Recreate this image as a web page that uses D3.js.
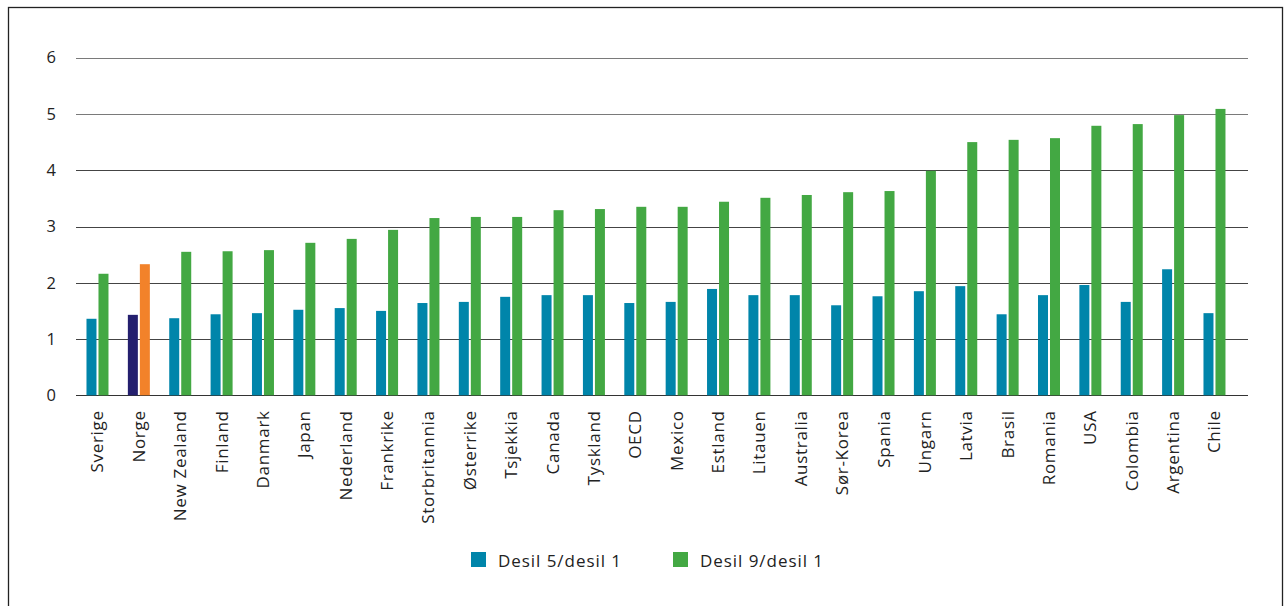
<!DOCTYPE html>
<html>
<head>
<meta charset="utf-8">
<script src="https://cdn.jsdelivr.net/npm/d3@7"></script>
<style>
  html, body { margin: 0; padding: 0; background: #fff; }
  svg { display: block; }
</style>
</head>
<body>
<svg id="chart" width="1285" height="606"></svg>
<script>
// Income ratios between deciles, by country
const countries = ["Sverige","Norge","New Zealand","Finland","Danmark","Japan","Nederland","Frankrike","Storbritannia","Østerrike","Tsjekkia","Canada","Tyskland","OECD","Mexico","Estland","Litauen","Australia","Sør-Korea","Spania","Ungarn","Latvia","Brasil","Romania","USA","Colombia","Argentina","Chile"];
const d5d1 = [1.36,1.43,1.37,1.44,1.46,1.52,1.55,1.50,1.64,1.66,1.75,1.78,1.78,1.64,1.66,1.89,1.78,1.78,1.60,1.76,1.85,1.94,1.44,1.78,1.96,1.66,2.24,1.46];
const d9d1 = [2.16,2.33,2.55,2.56,2.58,2.71,2.78,2.94,3.15,3.17,3.17,3.29,3.31,3.35,3.35,3.44,3.51,3.56,3.61,3.63,3.99,4.50,4.54,4.57,4.79,4.82,4.98,5.09];
const seriesNames = ["Desil 5/desil 1","Desil 9/desil 1"];
const yTicks = [0,1,2,3,4,5,6];

const colors = { d5: "#0085AA", d9: "#43A843", d5hi: "#241F6E", d9hi: "#F2822A" };
const highlight = "Norge";
const font = "'Open Sans', 'DejaVu Sans', sans-serif";

const svg = d3.select("#chart");

// outer frame
svg.append("rect")
  .attr("x", 8.5).attr("y", 7.5)
  .attr("width", 1274).attr("height", 610)
  .attr("fill", "none").attr("stroke", "#222").attr("stroke-width", 1.3);

const plot = { left: 76, right: 1248, top: 57.7, bottom: 395.3 };

const x = d3.scaleBand()
  .domain(countries)
  .range([plot.left, plot.left + 41.37 * countries.length]);

const y = d3.scaleLinear()
  .domain([0, 6])
  .range([plot.bottom, plot.top]);

// gridlines
svg.append("g")
  .selectAll("line")
  .data(yTicks)
  .join("line")
  .attr("x1", plot.left).attr("x2", plot.right)
  .attr("y1", d => Math.round(y(d)) + 0.5).attr("y2", d => Math.round(y(d)) + 0.5)
  .attr("stroke", d => d === 0 ? "#333" : (d >= 5 ? "#7a7a7a" : "#444"))
  .attr("stroke-width", 1.2);

// y axis labels
const yAxis = d3.axisLeft(y).tickValues(yTicks).tickSize(0).tickPadding(0).tickFormat(d3.format("d"));
const gy = svg.append("g").attr("transform", "translate(56,0)").call(yAxis);
gy.select(".domain").remove();
gy.selectAll("text")
  .attr("font-family", font).attr("font-size", 16.5).attr("fill", "#222");

// bars
const barW = 10, gap = 2;
const groups = svg.append("g")
  .selectAll("g")
  .data(countries)
  .join("g")
  .attr("transform", d => `translate(${x(d) + x.bandwidth() / 2 + 0.8},0)`);

groups.append("rect")
  .attr("x", -barW - gap / 2)
  .attr("width", barW)
  .attr("y", (d, i) => y(d5d1[i]))
  .attr("height", (d, i) => y(0) - y(d5d1[i]))
  .attr("fill", d => d === highlight ? colors.d5hi : colors.d5);

groups.append("rect")
  .attr("x", gap / 2)
  .attr("width", barW)
  .attr("y", (d, i) => y(d9d1[i]))
  .attr("height", (d, i) => y(0) - y(d9d1[i]))
  .attr("fill", d => d === highlight ? colors.d9hi : colors.d9);

// x axis labels, rotated
const xAxis = d3.axisBottom(x).tickSize(0).tickPadding(0);
const gx = svg.append("g").attr("transform", `translate(0.8,${plot.bottom})`).call(xAxis);
gx.select(".domain").remove();
gx.selectAll("text")
  .attr("font-family", font).attr("font-size", 17).attr("fill", "#222")
  .attr("letter-spacing", "0.7px")
  .attr("text-anchor", "end")
  .attr("dy", null)
  .attr("transform", "translate(6,15) rotate(-90)");

// legend
const legend = svg.append("g");
const legendItems = [
  { name: seriesNames[0], color: colors.d5, x: 471 },
  { name: seriesNames[1], color: colors.d9, x: 673 }
];
const li = legend.selectAll("g").data(legendItems).join("g")
  .attr("transform", d => `translate(${d.x},552)`);
li.append("rect").attr("width", 15).attr("height", 15).attr("fill", d => d.color);
li.append("text")
  .attr("x", 27).attr("y", 15)
  .attr("font-family", font).attr("font-size", 17).attr("fill", "#222")
  .attr("letter-spacing", "0.95px")
  .text(d => d.name);
</script>
</body>
</html>
